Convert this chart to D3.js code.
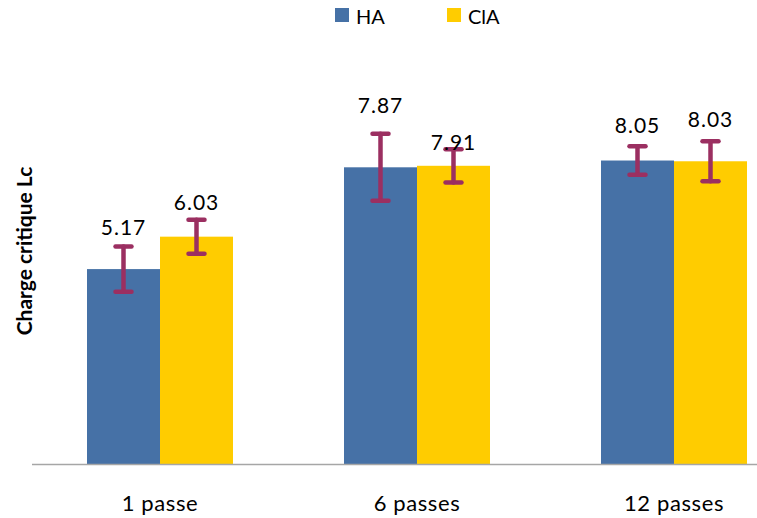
<!DOCTYPE html>
<html><head><meta charset="utf-8">
<script src="https://cdn.jsdelivr.net/npm/d3@7/dist/d3.min.js"></script>
<style>body{margin:0;background:#fff}svg{display:block}text{font-family:Lato,"Open Sans",sans-serif;fill:#000}</style>
</head><body>
<svg id="c" width="757" height="518"></svg>
<script>
const categories = ["1 passe", "6 passes", "12 passes"];
const seriesNames = ["HA", "ClA"];
const haValues = [5.17, 7.87, 8.05];
const claValues = [6.03, 7.91, 8.03];
const haErrors = [0.60, 0.89, 0.38];
const claErrors = [0.45, 0.44, 0.53];
const haLabelOffsets = [11, 21, 13];
const claLabelOffsets = [10, -1, 14];
const colors = ["#4671A6", "#FFCC00"];
const errColor = "#9B2F61";

const svg = d3.select("#c");
const x = d3.scaleBand().domain(categories).range([31.5, 802.5]).paddingInner(0).paddingOuter(0);
const barW = 73;
const y = d3.scaleLinear().domain([0, 10]).range([464, 87]);

const series = [
  {name: seriesNames[0], values: haValues, errs: haErrors, offs: haLabelOffsets, color: colors[0], shift: -barW},
  {name: seriesNames[1], values: claValues, errs: claErrors, offs: claLabelOffsets, color: colors[1], shift: 0}
];

// bars
series.forEach(s => {
  svg.append("g").selectAll("rect").data(categories).join("rect")
    .attr("x", (c) => x(c) + x.bandwidth()/2 + s.shift)
    .attr("y", (c, i) => y(s.values[i]))
    .attr("width", barW)
    .attr("height", (c, i) => y(0) - y(s.values[i]))
    .attr("fill", s.color);
});

// x axis
const xAxis = d3.axisBottom(x).tickSize(0).tickPadding(31);
const gx = svg.append("g").attr("transform", `translate(0,${y(0)})`).call(xAxis);
gx.select(".domain").attr("stroke", "#A6A6A6").attr("stroke-width", 1.5);
gx.selectAll("text").attr("font-size", 22).attr("letter-spacing", 0.6)
  .attr("font-family", "Lato,'Open Sans',sans-serif").attr("fill", "#000");

// error bars and labels
series.forEach(s => {
  const g = svg.append("g");
  categories.forEach((c, i) => {
    const cx = x(c) + x.bandwidth()/2 + s.shift + barW/2;
    const v = s.values[i], e = s.errs[i];
    const ge = g.append("g").attr("stroke", errColor).attr("stroke-width", 4.5).attr("stroke-linecap", "round");
    ge.append("line").attr("x1", cx).attr("x2", cx).attr("y1", y(v + e)).attr("y2", y(v - e));
    ge.append("line").attr("x1", cx - 8).attr("x2", cx + 8).attr("y1", y(v + e)).attr("y2", y(v + e));
    ge.append("line").attr("x1", cx - 8).attr("x2", cx + 8).attr("y1", y(v - e)).attr("y2", y(v - e));
    g.append("text").attr("x", cx).attr("y", y(v + e) - s.offs[i])
      .attr("text-anchor", "middle").attr("font-size", 21).attr("letter-spacing", 1).text(v.toFixed(2));
  });
});

// y axis title
svg.append("text").attr("transform", "translate(32,251) rotate(-90)")
  .attr("text-anchor", "middle").attr("font-size", 21).attr("font-weight", "bold")
  .text("Charge critique Lc");

// legend
const legX = [335, 447];
series.forEach((s, i) => {
  svg.append("rect").attr("x", legX[i]).attr("y", 8).attr("width", 14).attr("height", 14).attr("fill", s.color);
  svg.append("text").attr("x", legX[i] + 21).attr("y", 24).attr("font-size", 20).text(s.name);
});
</script>
</body></html>
